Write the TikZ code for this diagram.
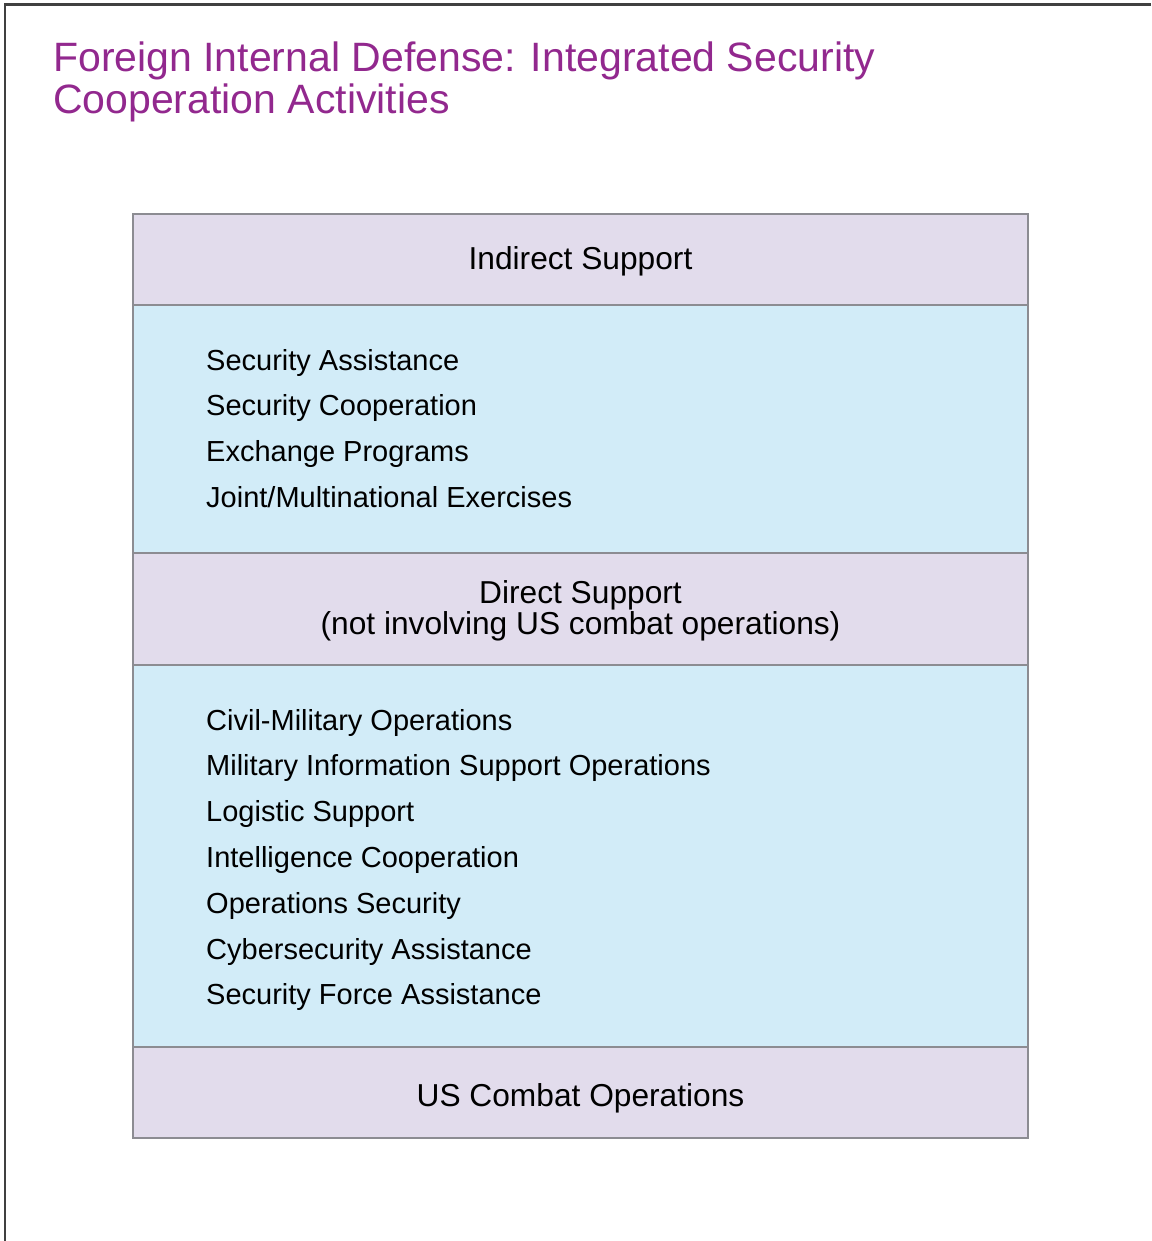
\documentclass[tikz,border=0pt]{standalone}
\usepackage{fontspec}
\setmainfont{Liberation Sans}
\definecolor{titlepurple}{RGB}{146,40,142}
\definecolor{headfill}{RGB}{226,220,236}
\definecolor{listfill}{RGB}{210,236,248}
\definecolor{edgegray}{RGB}{140,140,146}
\definecolor{framegray}{RGB}{64,64,64}

\begin{document}
\begin{tikzpicture}[x=1pt, y=-1pt]

\useasboundingbox (0,0) rectangle (1151,1241);
\draw[framegray, line width=2.8pt] (1151,4.5) -- (5,4.5) -- (5,1241);

\tikzset{every node/.style={inner sep=0pt}} 
\node[anchor=base west, align=left, text=titlepurple,
  font=\fontsize{41}{42}\selectfont] (title) at (53,114)
  {Foreign Internal Defense: Integrated Security\\Cooperation Activities};

\tikzset{every node/.style={draw=edgegray, line width=1.2pt, rectangle,
  minimum width=895pt, inner sep=0pt, align=center, text depth=6.7pt,
  font=\fontsize{31.7}{31}\selectfont}} 
\node[fill=headfill, minimum height=91pt, text height=27pt] (indirect) at (580.5,259.5) {Indirect Support};
\node[fill=listfill, minimum height=248pt] (indirectlist) at (580.5,429) {};
\node[fill=headfill, minimum height=112pt, text height=58pt] (direct) at (580.5,609)
  {Direct Support\\(not involving US combat operations)};
\node[fill=listfill, minimum height=382pt] (directlist) at (580.5,856) {};
\node[fill=headfill, minimum height=91pt, text height=34pt] (combat) at (580.5,1092.5) {US Combat Operations};

\tikzset{every node/.style={anchor=base west, inner sep=0pt,
  font=\fontsize{29}{34}\selectfont}} 
\node (sa) at (206,370) {Security Assistance};
\node (sc) at (206,415.8) {Security Cooperation};
\node (ep) at (206,461.6) {Exchange Programs};
\node (jme) at (206,507.4) {Joint/Multinational Exercises};

\node (cmo) at (206,730) {Civil-Military Operations};
\node (miso) at (206,775.8) {Military Information Support Operations};
\node (ls) at (206,821.6) {Logistic Support};
\node (ic) at (206,867.4) {Intelligence Cooperation};
\node (opsec) at (206,913.2) {Operations Security};
\node (cyber) at (206,959) {Cybersecurity Assistance};
\node (sfa) at (206,1004.8) {Security Force Assistance};
\end{tikzpicture}
\end{document}
